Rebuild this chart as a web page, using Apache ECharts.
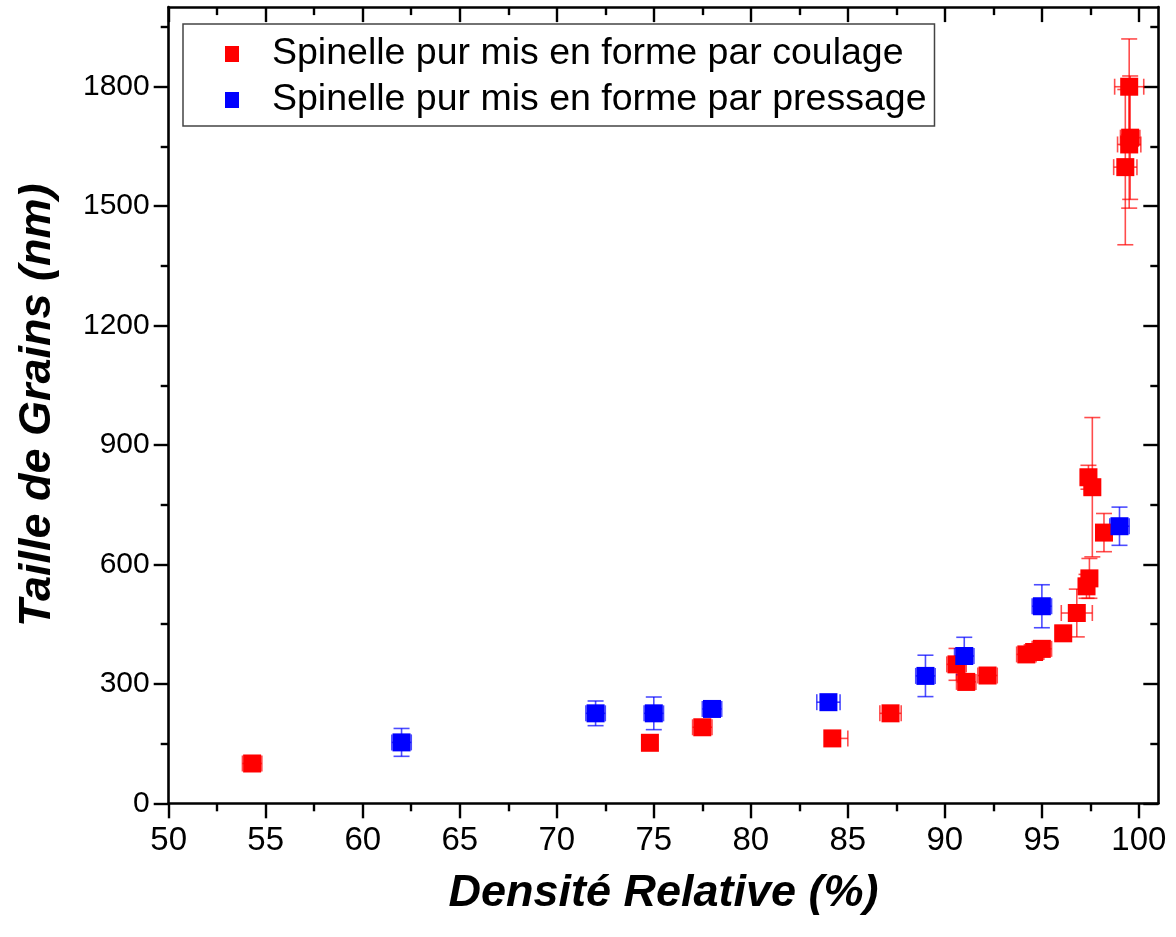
<!DOCTYPE html>
<html>
<head>
<meta charset="utf-8">
<script src="https://cdn.jsdelivr.net/npm/echarts@6/dist/echarts.min.js"></script>
<style>
html,body{margin:0;padding:0;background:#fff;}
#chart{width:1176px;height:937px;}
</style>
</head>
<body>
<div id="chart"></div>
<script>
// ---- data ----
const seriesNames = ['Spinelle pur mis en forme par coulage', 'Spinelle pur mis en forme par pressage'];

const redX      = [54.3, 74.8, 77.5, 84.2, 87.2, 90.6, 91.1, 92.2, 94.2, 94.6, 95.0, 96.1, 96.8, 97.3, 97.45, 97.4, 97.6, 98.2, 99.3, 99.5, 99.55, 99.5];
const redY      = [100, 152, 191, 163, 226, 349, 305, 321, 374, 380, 388, 427, 478, 545, 565, 819, 794, 680, 1598, 1655, 1672, 1800];
const redXErrLo = [0.5, 0.3, 0.5, 0.0, 0.55, 0.5, 0.5, 0.5, 0.5, 0.5, 0.5, 0.4, 0.8, 0.4, 0.4, 0.4, 0.4, 0.4, 0.6, 0.6, 0.5, 0.75];
const redXErrHi = [0.5, 0.3, 0.5, 0.8, 0.55, 0.5, 0.5, 0.5, 0.5, 0.5, 0.5, 0.4, 0.8, 0.4, 0.4, 0.4, 0.4, 0.4, 0.6, 0.6, 0.5, 0.75];
const redYErr   = [8, 10, 10, 8, 10, 40, 20, 10, 15, 15, 20, 15, 60, 30, 50, 30, 175, 48, 195, 160, 155, 120];

const blueX      = [62, 72, 75, 78, 84, 89, 91, 95, 99];
const blueY      = [153, 226, 226, 237, 254, 320, 370, 495, 696];
const blueXErr   = [0.5, 0.5, 0.5, 0.5, 0.6, 0.5, 0.5, 0.5, 0.5];
const blueYErr   = [35, 31, 41, 12, 12, 52, 47, 54, 48];

const xMajorTicks = [50, 55, 60, 65, 70, 75, 80, 85, 90, 95, 100];
const xMinorTicks = [52.5, 57.5, 62.5, 67.5, 72.5, 77.5, 82.5, 87.5, 92.5, 97.5];
const yMajorTicks = [0, 300, 600, 900, 1200, 1500, 1800];
const yMinorTicks = [150, 450, 750, 1050, 1350, 1650, 1950];

const xTitle = 'Densité Relative (%)';
const yTitle = 'Taille de Grains (nm)';

// ---- build ----
const chart = echarts.init(document.getElementById('chart'), null, {renderer: 'canvas'});

function errRows(xs, ys, xlo, xhi, ye) {
  return xs.map((x, i) => [x, ys[i], xlo[i], xhi[i], ye[i]]);
}
function errSeries(rows, color) {
  return {
    type: 'custom',
    xAxisIndex: 0, yAxisIndex: 0,
    encode: {x: 0, y: 1},
    z: 2,
    silent: true,
    data: rows,
    renderItem: function (params, api) {
      const x = api.value(0), y = api.value(1);
      const xl = api.value(2), xh = api.value(3), ye = api.value(4);
      const c = api.coord([x, y]);
      const l = api.coord([x - xl, y]);
      const r = api.coord([x + xh, y]);
      const t = api.coord([x, y + ye]);
      const b = api.coord([x, y - ye]);
      const cap = 8;
      const st = {stroke: color, lineWidth: 1.6, fill: null};
      const ch = [];
      if (ye > 0) {
        ch.push({type: 'line', shape: {x1: c[0], y1: t[1], x2: c[0], y2: b[1]}, style: st});
        ch.push({type: 'line', shape: {x1: c[0] - cap, y1: t[1], x2: c[0] + cap, y2: t[1]}, style: st});
        ch.push({type: 'line', shape: {x1: c[0] - cap, y1: b[1], x2: c[0] + cap, y2: b[1]}, style: st});
      }
      ch.push({type: 'line', shape: {x1: l[0], y1: c[1], x2: r[0], y2: c[1]}, style: st});
      if (xl > 0) ch.push({type: 'line', shape: {x1: l[0], y1: c[1] - cap, x2: l[0], y2: c[1] + cap}, style: st});
      if (xh > 0) ch.push({type: 'line', shape: {x1: r[0], y1: c[1] - cap, x2: r[0], y2: c[1] + cap}, style: st});
      return {type: 'group', children: ch};
    }
  };
}

const axisLineStyle = {color: '#000', width: 2.6};
const font = "'Liberation Sans', Arial, sans-serif";

function xAx(position, values, len, inside, withLine, extra) {
  return Object.assign({
    type: 'value', gridIndex: 0, position: position,
    min: 50, max: 101, interval: 5,
    axisLine: {show: withLine, onZero: false, lineStyle: axisLineStyle},
    axisTick: {show: true, inside: inside, length: len, customValues: values, lineStyle: {color: '#000', width: 2.4}},
    axisLabel: {show: false},
    splitLine: {show: false}
  }, extra || {});
}
function yAx(position, values, len, inside, withLine, extra) {
  return Object.assign({
    type: 'value', gridIndex: 0, position: position,
    min: 0, max: 2000, interval: 300,
    axisLine: {show: withLine, onZero: false, lineStyle: axisLineStyle},
    axisTick: {show: true, inside: inside, length: len, customValues: values, lineStyle: {color: '#000', width: 2.4}},
    axisLabel: {show: false},
    splitLine: {show: false}
  }, extra || {});
}

const option = {
  backgroundColor: '#fff',
  animation: false,
  grid: {left: 168.7, right: 17.7, top: 7.1, bottom: 133.7, containLabel: false},
  legend: {
    data: seriesNames,
    orient: 'vertical',
    left: 183, top: 24,
    padding: [10, 8, 6, 42],
    borderColor: '#444', borderWidth: 1.5,
    backgroundColor: '#fff',
    icon: 'rect',
    itemWidth: 14, itemHeight: 16, itemGap: 6,
    textStyle: {fontFamily: font, fontSize: 37.5, color: '#000', lineHeight: 40, padding: [0, 0, 0, 28]}
  },
  xAxis: [
    xAx('bottom', xMajorTicks, 15, false, true, {
      axisLabel: {show: true, customValues: xMajorTicks, margin: 21, fontFamily: font, fontSize: 33, color: '#000',
                  formatter: v => String(v)},
      name: xTitle, nameLocation: 'middle', nameGap: 90,
      nameTextStyle: {fontFamily: font, fontSize: 45, fontWeight: 'bold', fontStyle: 'italic', color: '#000', verticalAlign: 'middle'}
    }),
    xAx('bottom', xMinorTicks, 8, false, false),
    xAx('top', xMajorTicks, 15, true, true),
    xAx('top', xMinorTicks, 8, true, false)
  ],
  yAxis: [
    yAx('left', yMajorTicks, 15, false, true, {
      axisLabel: {show: true, customValues: yMajorTicks, margin: 19, fontFamily: font, fontSize: 30, color: '#000',
                  formatter: v => String(v)},
      name: yTitle, nameLocation: 'middle', nameGap: 131, nameRotate: 90,
      nameTextStyle: {fontFamily: font, fontSize: 45, fontWeight: 'bold', fontStyle: 'italic', color: '#000', verticalAlign: 'middle'}
    }),
    yAx('left', yMinorTicks, 8, false, false),
    yAx('right', yMajorTicks, 15, true, true),
    yAx('right', yMinorTicks, 8, true, false)
  ],
  series: [
    errSeries(errRows(redX, redY, redXErrLo, redXErrHi, redYErr), 'rgba(255,0,0,0.7)'),
    errSeries(errRows(blueX, blueY, blueXErr, blueXErr, blueYErr), 'rgba(0,0,255,0.7)'),
    {
      name: seriesNames[0], type: 'scatter', xAxisIndex: 0, yAxisIndex: 0,
      symbol: 'rect', symbolSize: 18, z: 3,
      itemStyle: {color: '#ff0000', opacity: 1},
      data: redX.map((x, i) => [x, redY[i]])
    },
    {
      name: seriesNames[1], type: 'scatter', xAxisIndex: 0, yAxisIndex: 0,
      symbol: 'rect', symbolSize: 18, z: 3,
      itemStyle: {color: '#0000ff', opacity: 1},
      data: blueX.map((x, i) => [x, blueY[i]])
    }
  ]
};
chart.setOption(option);
</script>
</body>
</html>
